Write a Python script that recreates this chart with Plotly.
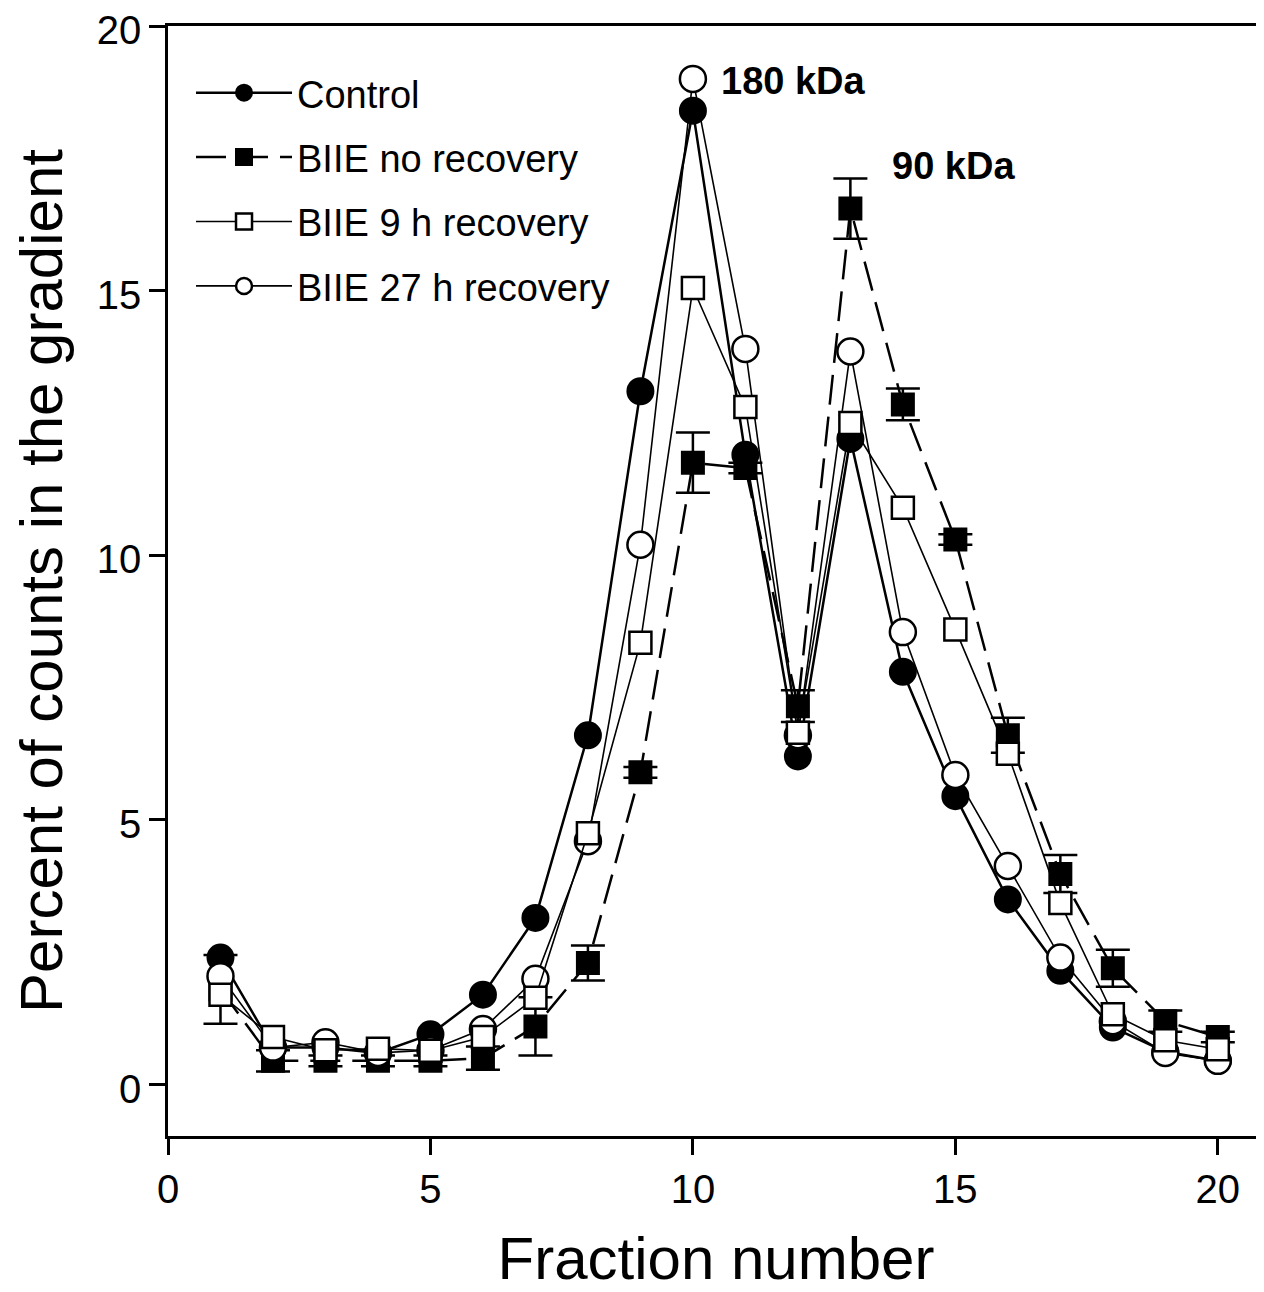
import plotly.graph_objects as go

fractions = list(range(1, 21))

control = [2.4, 0.7, 0.7, 0.6, 0.95, 1.7, 3.15, 6.6, 13.1, 18.4,
           11.9, 6.2, 12.2, 7.8, 5.45, 3.5, 2.15, 1.08, 0.62, 0.45]

no_recovery = [1.8, 0.45, 0.45, 0.45, 0.45, 0.5, 1.1, 2.3, 5.9, 11.75,
               11.65, 7.15, 16.55, 12.85, 10.3, 6.6, 3.98, 2.2, 1.2, 0.9]
no_recovery_err = [0.65, 0.2, 0.1, 0.1, 0.1, 0.22, 0.55, 0.33, 0.1, 0.57,
                   0.1, 0.3, 0.57, 0.3, 0.1, 0.33, 0.36, 0.35, 0.2, 0.1]

rec_9h = [1.7, 0.9, 0.65, 0.68, 0.64, 0.9, 1.64, 4.75, 8.35, 15.05,
          12.8, 6.65, 12.5, 10.9, 8.6, 6.25, 3.43, 1.33, 0.84, 0.67]

rec_27h = [2.05, 0.7, 0.8, 0.6, 0.65, 1.05, 2.0, 4.6, 10.2, 19.0,
           13.9, 6.6, 13.85, 8.55, 5.85, 4.13, 2.4, 1.2, 0.6, 0.45]

x_ticks = [0, 5, 10, 15, 20]
y_ticks = [0, 5, 10, 15, 20]

FONT = "Liberation Sans, Arial, sans-serif"

fig = go.Figure()

fig.add_trace(go.Scatter(
    x=fractions, y=control, name="Control", mode="lines+markers",
    line=dict(color="black", width=2.5),
    marker=dict(symbol="circle", size=26, color="black",
                line=dict(color="black", width=2)),
    legendgroup="a", legendrank=1,
))
fig.add_trace(go.Scatter(
    x=fractions, y=no_recovery, name="BIIE no recovery", mode="lines+markers",
    line=dict(color="black", width=2.5, dash="30px,12px"),
    marker=dict(symbol="square", size=22, color="black",
                line=dict(color="black", width=2)),
    error_y=dict(type="data", array=no_recovery_err, visible=True,
                 color="black", thickness=2.5, width=17),
    legendgroup="b", legendrank=2,
))
fig.add_trace(go.Scatter(
    x=fractions, y=rec_27h, name="BIIE 27 h recovery", mode="lines+markers",
    line=dict(color="black", width=1.6),
    marker=dict(symbol="circle", size=26, color="white",
                line=dict(color="black", width=2.5)),
    legendgroup="d", legendrank=4,
))
fig.add_trace(go.Scatter(
    x=fractions, y=rec_9h, name="BIIE 9 h recovery", mode="lines+markers",
    line=dict(color="black", width=1.6),
    marker=dict(symbol="square", size=22, color="white",
                line=dict(color="black", width=2.5)),
    legendgroup="c", legendrank=3,
))

fig.add_annotation(x=10.5, y=18.97, text="<b>180 kDa</b>", showarrow=False,
                   xanchor="left", yanchor="middle",
                   font=dict(family=FONT, size=38, color="black"))
fig.add_annotation(x=13.75, y=17.35, text="<b>90 kDa</b>", showarrow=False,
                   xanchor="left", yanchor="middle",
                   font=dict(family=FONT, size=38, color="black"))

# page body has an 8px default margin, so the figure is sized to fit the window
fig.update_layout(
    width=1256, height=1284,
    margin=dict(l=160, r=0, t=18, b=156, autoexpand=False),
    plot_bgcolor="white", paper_bgcolor="white",
    font=dict(family=FONT, color="black"),
    showlegend=True,
    legend=dict(x=0.021, y=0.968, xanchor="left", yanchor="top",
                font=dict(family=FONT, size=38, color="black"),
                bgcolor="rgba(0,0,0,0)", traceorder="grouped",
                tracegroupgap=12, itemwidth=96),
    xaxis=dict(range=[0, 20.88], tickvals=x_ticks, ticktext=[str(v) for v in x_ticks],
               showline=True, linecolor="black", linewidth=2.5, mirror=True,
               ticks="outside", ticklen=16, tickwidth=2.5, tickcolor="black",
               showgrid=False, zeroline=False, automargin=False,
               ticklabeloverflow="allow",
               tickfont=dict(family=FONT, size=40, color="black"),
               title=dict(text="Fraction number",
                          font=dict(family=FONT, size=60, color="black"),
                          standoff=50)),
    yaxis=dict(range=[-0.97, 20], tickvals=y_ticks, ticktext=[str(v) for v in y_ticks],
               showline=True, linecolor="black", linewidth=2.5,
               ticks="outside", ticklen=16, tickwidth=2.5, tickcolor="black",
               showgrid=False, zeroline=False, automargin=False,
               ticklabeloverflow="allow", ticklabelshift=4,
               tickfont=dict(family=FONT, size=40, color="black"),
               title=dict(text="Percent of counts in the gradient",
                          font=dict(family=FONT, size=60, color="black"),
                          standoff=25)),
)

fig.write_html("out.html")
